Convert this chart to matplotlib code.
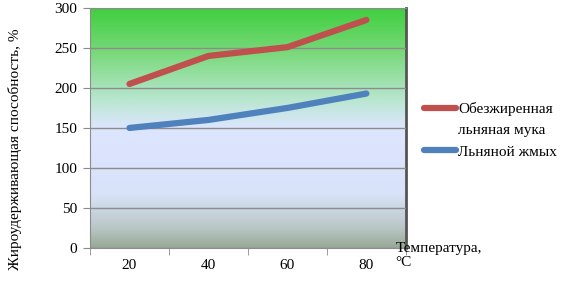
import numpy as np
import matplotlib.pyplot as plt
from matplotlib.colors import LinearSegmentedColormap
from matplotlib.lines import Line2D

plt.rcParams['font.family'] = ['Liberation Serif', 'DejaVu Serif']

temps = ['20', '40', '60', '80']
muka = [205, 240, 251, 285]
zhmyh = [150, 160, 175, 193]

fig = plt.figure(figsize=(5.66, 2.84), dpi=100)
ax = fig.add_axes([0.159, 0.127, 0.558, 0.845])

# background gradient (bottom -> top)
cmap = LinearSegmentedColormap.from_list('bg', [
    (0.0, '#97a897'), (0.08, '#b9c6c4'), (0.22, '#d8e2f8'), (0.5, '#dde6ff'),
    (0.62, '#b8e6cf'), (0.83, '#74d874'), (1.0, '#3fcf3f')])
grad = np.linspace(0, 1, 256).reshape(-1, 1)
ax.imshow(grad, aspect='auto', cmap=cmap, origin='lower',
          extent=[-0.5, 3.5, 0, 300], zorder=0)

x = np.arange(len(temps))
l1, = ax.plot(x, muka, color='#c0504d', lw=4.5, solid_capstyle='round', zorder=3)
l2, = ax.plot(x, zhmyh, color='#4f81bd', lw=4.5, solid_capstyle='round', zorder=3)

ax.set_xlim(-0.5, 3.5)
ax.set_ylim(0, 300)
ax.set_yticks(range(0, 301, 50))
ax.yaxis.grid(True, color='#8c8c8c', lw=1, zorder=1)
ax.set_axisbelow(False)
ax.set_xticks(x)
ax.set_xticklabels(temps)
ax.set_xticks(np.arange(-0.5, 4, 1), minor=True)
ax.tick_params(axis='x', which='major', length=0, labelsize=11, pad=8)
ax.tick_params(axis='x', which='minor', length=5, color='#8c8c8c')
ax.tick_params(axis='y', length=5, color='#8c8c8c', labelsize=11, pad=4)
for s in ['top', 'left']:
    ax.spines[s].set_color('#8c8c8c')
ax.spines['bottom'].set_color('#8c8c8c')
ax.spines['right'].set_color('#555555')
ax.spines['right'].set_linewidth(2)

ax.set_ylabel('Жироудерживающая способность, %', fontsize=11)
ax.yaxis.set_label_coords(-0.215, 0.41)

fig.text(0.699, 0.148, 'Температура,\n°C', fontsize=11, va='top', ha='left',
         linespacing=1.1)

blank = Line2D([], [], color='none')
ax.legend([l1, blank, l2], ['Обезжиренная', 'льняная мука', 'Льняной жмых'],
          loc='center left', bbox_to_anchor=(1.015, 0.49), frameon=False,
          fontsize=11, handlelength=2.1, handletextpad=0.1, labelspacing=0.5)

fig.savefig('out.png', dpi=100)
